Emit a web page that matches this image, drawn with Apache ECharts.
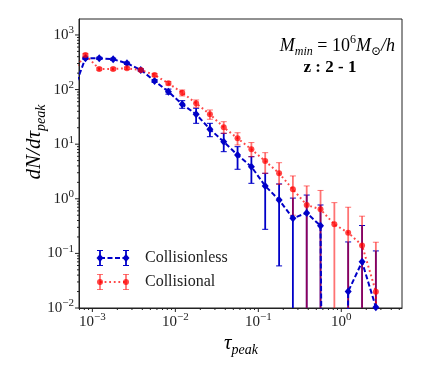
<!DOCTYPE html>
<html>
<head>
<meta charset="utf-8">
<script src="https://cdn.jsdelivr.net/npm/echarts@6/dist/echarts.min.js"></script>
<style>
  html, body { margin: 0; padding: 0; background: #fff; }
  #chart { width: 421px; height: 369px; }
</style>
</head>
<body>
<div id="chart"></div>
<script>
  // bin centres of tau_peak (log spaced, 6 per decade)
  const tau = [0.00056, 0.000825, 0.00121, 0.00178, 0.00261, 0.00383, 0.00562, 0.00825,
    0.0121, 0.0178, 0.0261, 0.0383, 0.0562, 0.0825, 0.121, 0.178, 0.261, 0.383,
    0.562, 0.825, 1.21, 1.78, 2.61, 3.83]

  // Collisionless: dN/dtau and error bar ends (0 = empty bin / open lower bound)
  const collisionless = [77, 374, 374, 359, 303, 229, 144, 91.5, 53.8, 35.3, 18.8, 11.1,
    6.34, 3.87, 1.72, 0.95, 0.44, 0.55, 0.32, 0, 0.020, 0.070, 0.0103, 0]
  const collisionlessLo = [70, 355, 356, 342, 288, 217, 135, 82.4, 45.4, 24.1, 13.7, 7.29,
    3.47, 1.92, 0.276, 0.059, 0, 0, 0, null, 0, 0, 0, null]
  const collisionlessHi = [84, 393, 392, 376, 318, 241, 153, 102, 62.6, 45.4, 24.1, 15.8,
    9.0, 5.9, 2.93, 1.87, 1.03, 1.17, 0.77, null, 0.162, 0.324, 0.111, null]

  // Collisional
  const collisional = [200, 430, 238, 238, 245, 229, 185, 130, 87.7, 56.1, 35.3, 20.4,
    12.8, 8.07, 4.92, 2.93, 1.49, 0.77, 0.64, 0.34, 0.24, 0.14, 0.0199, 0]
  const collisionalLo = [185, 405, 226, 226, 233, 218, 175, 121, 76.4, 47.4, 28.6, 15.8,
    9.67, 5.9, 2.93, 1.84, 0.5, 0, 0, 0, 0, 0, 0, null]
  const collisionalHi = [215, 455, 250, 250, 258, 240, 196, 140, 98.3, 64.5, 42.3, 25.8,
    16.2, 10.7, 6.99, 4.58, 2.62, 1.72, 1.42, 0.85, 0.70, 0.48, 0.16, null]

  const xTicks = [0.001, 0.01, 0.1, 1]
  const yTicks = [0.01, 0.1, 1, 10, 100, 1000]

  const X_MIN = 6.9e-4
  const X_MAX = 5.39
  const Y_MIN = 0.01
  const Y_MAX = 1960
  const FLOOR = 1e-30 // empty bins get clipped below the axis, like matplotlib

  const BLUE = '#0000c8'
  const RED = 'rgba(255,0,0,0.72)'
  const RED_BAR = 'rgba(255,0,0,0.55)'
  const SERIF = '"Liberation Serif", "DejaVu Serif", serif'

  // minor ticks at 2..9 x 10^k inside the axis ranges
  function minorTicks(lo, hi) {
    const out = []
    for (let k = -4; k <= 4; k++) {
      for (let m = 2; m <= 9; m++) {
        const v = m * Math.pow(10, k)
        if (v > lo && v < hi) out.push(v)
      }
    }
    return out
  }

  function pointData(values) {
    return tau.map((t, i) => [t, values[i] > 0 ? values[i] : FLOOR])
  }

  function barData(lo, hi) {
    const out = []
    tau.forEach((t, i) => {
      if (hi[i] == null) return
      out.push([t, lo[i] > 0 ? lo[i] : FLOOR, hi[i]])
    })
    return out
  }

  function errorBars(color) {
    return function (params, api) {
      const a = api.coord([api.value(0), api.value(1)])
      const b = api.coord([api.value(0), api.value(2)])
      const cap = 3
      return {
        type: 'group',
        children: [
          { type: 'line', shape: { x1: a[0], y1: a[1], x2: b[0], y2: b[1] }, style: { stroke: color, lineWidth: 1.8 } },
          { type: 'line', shape: { x1: a[0] - cap, y1: a[1], x2: a[0] + cap, y2: a[1] }, style: { stroke: color, lineWidth: 1 } },
          { type: 'line', shape: { x1: b[0] - cap, y1: b[1], x2: b[0] + cap, y2: b[1] }, style: { stroke: color, lineWidth: 1 } }
        ]
      }
    }
  }

  // tick marks drawn outward, major 4px, minor 2px
  function tickSeries(axis) {
    const data = []
    if (axis === 'x') {
      xTicks.forEach(v => data.push([v, Y_MIN, 4]))
      minorTicks(X_MIN, X_MAX).forEach(v => data.push([v, Y_MIN, 2]))
    } else {
      yTicks.forEach(v => data.push([X_MIN, v, 4]))
      minorTicks(Y_MIN, Y_MAX).forEach(v => data.push([X_MIN, v, 2]))
    }
    return {
      type: 'custom',
      silent: true,
      clip: false,
      z: 5,
      encode: { x: 0, y: 1 },
      data: data,
      renderItem(params, api) {
        const p = api.coord([api.value(0), api.value(1)])
        const len = api.value(2)
        const shape = axis === 'x'
          ? { x1: p[0], y1: p[1], x2: p[0], y2: p[1] + len }
          : { x1: p[0], y1: p[1], x2: p[0] - len, y2: p[1] }
        return { type: 'line', shape: shape, style: { stroke: '#222', lineWidth: 1 } }
      }
    }
  }

  function powLabel(v) {
    const e = Math.log10(v)
    const r = Math.round(e)
    if (Math.abs(e - r) > 1e-6) return ''
    return '{b|10}{s|' + String(r).replace('-', '\u2212') + '}'
  }

  const labelRich = {
    b: { fontFamily: SERIF, fontSize: 15, lineHeight: 20, color: '#222' },
    s: { fontFamily: SERIF, fontSize: 11, lineHeight: 11, verticalAlign: 'top', color: '#222' }
  }

  // legend rows (drawn like matplotlib errorbar handles)
  const legendRows = [
    { name: 'Collisionless', color: BLUE, bar: BLUE, dash: [5, 2.5], symbol: 'diamond', y: 258 },
    { name: 'Collisional', color: RED, bar: RED_BAR, dash: [1.8, 2.8], symbol: 'circle', y: 282 }
  ]

  const legendGraphics = []
  legendRows.forEach(row => {
    legendGraphics.push({
      type: 'line', shape: { x1: 100, y1: row.y, x2: 126, y2: row.y },
      style: { stroke: row.color, lineWidth: 2, lineDash: row.dash }
    })
    ;[100, 126].forEach(x => {
      legendGraphics.push({ type: 'line', shape: { x1: x, y1: row.y - 7.5, x2: x, y2: row.y + 7.5 }, style: { stroke: row.bar, lineWidth: 1.8 } })
      legendGraphics.push({ type: 'line', shape: { x1: x - 3, y1: row.y - 7.5, x2: x + 3, y2: row.y - 7.5 }, style: { stroke: row.bar, lineWidth: 1 } })
      legendGraphics.push({ type: 'line', shape: { x1: x - 3, y1: row.y + 7.5, x2: x + 3, y2: row.y + 7.5 }, style: { stroke: row.bar, lineWidth: 1 } })
      if (row.symbol === 'circle') {
        legendGraphics.push({ type: 'circle', shape: { cx: x, cy: row.y, r: 3 }, style: { fill: row.color } })
      } else {
        legendGraphics.push({ type: 'polygon', shape: { points: [[x, row.y - 4], [x + 3.5, row.y], [x, row.y + 4], [x - 3.5, row.y]] }, style: { fill: row.color } })
      }
    })
    legendGraphics.push({
      type: 'text', x: 145, y: row.y,
      style: { text: row.name, fill: '#222', font: '16px ' + SERIF, align: 'left', verticalAlign: 'middle', textAlign: 'left', textVerticalAlign: 'middle' }
    })
  })

  const mathRich = {
    i: { fontFamily: SERIF, fontStyle: 'italic', fontSize: 18, lineHeight: 24, color: '#222' },
    r: { fontFamily: SERIF, fontSize: 18, lineHeight: 24, color: '#222' },
    s: { fontFamily: SERIF, fontStyle: 'italic', fontSize: 12, lineHeight: 12, verticalAlign: 'bottom', color: '#222' },
    p: { fontFamily: SERIF, fontSize: 12, lineHeight: 12, verticalAlign: 'top', color: '#222' },
    bold: { fontFamily: SERIF, fontWeight: 'bold', fontSize: 17, lineHeight: 22, color: '#222' },
    big: { fontFamily: SERIF, fontStyle: 'italic', fontSize: 21, lineHeight: 28, color: '#222' },
    bigsub: { fontFamily: SERIF, fontStyle: 'italic', fontSize: 14, lineHeight: 14, verticalAlign: 'bottom', color: '#222' }
  }

  const chart = echarts.init(document.getElementById('chart'), null, { renderer: 'canvas' })
  chart.setOption({
    animation: false,
    backgroundColor: '#fff',
    grid: { left: 79, right: 19, top: 19, bottom: 61, show: true, borderColor: '#222', borderWidth: 1, outerBoundsMode: 'none' },
    xAxis: {
      type: 'log',
      logBase: 10,
      min: X_MIN,
      max: X_MAX,
      axisLine: { show: true, lineStyle: { color: '#222' } },
      axisTick: { show: false },
      splitLine: { show: false },
      axisLabel: { formatter: powLabel, rich: labelRich, margin: 4, showMinLabel: false, showMaxLabel: false }
    },
    yAxis: {
      type: 'log',
      logBase: 10,
      min: Y_MIN,
      max: Y_MAX,
      axisLine: { show: true, lineStyle: { color: '#222' } },
      axisTick: { show: false },
      splitLine: { show: false },
      axisLabel: { formatter: powLabel, rich: labelRich, margin: 5, showMaxLabel: false }
    },
    graphic: [
      ...legendGraphics,
      {
        type: 'text', x: 395, y: 46,
        style: { text: '{i|M}{s|min}{r| = 10}{p|6}{i|M}{s|\u2299}{i|/h}', rich: mathRich, align: 'right', verticalAlign: 'middle', textAlign: 'right', textVerticalAlign: 'middle' }
      },
      {
        type: 'text', x: 330, y: 68,
        style: { text: '{bold|z : 2 - 1}', rich: mathRich, align: 'center', verticalAlign: 'middle', textAlign: 'center', textVerticalAlign: 'middle' }
      },
      {
        type: 'text', x: 241, y: 343,
        style: { text: '{big|\u03c4}{bigsub|peak}', rich: mathRich, align: 'center', verticalAlign: 'middle', textAlign: 'center', textVerticalAlign: 'middle' }
      },
      {
        type: 'text', x: 34, y: 142, rotation: Math.PI / 2,
        style: { text: '{big|dN/d\u03c4}{bigsub|peak}', rich: mathRich, align: 'center', verticalAlign: 'middle', textAlign: 'center', textVerticalAlign: 'middle' }
      }
    ],
    series: [
      {
        name: 'Collisionless errors',
        type: 'custom',
        clip: true,
        silent: true,
        encode: { x: 0, y: [1, 2] },
        data: barData(collisionlessLo, collisionlessHi),
        renderItem: errorBars(BLUE)
      },
      {
        name: 'Collisionless',
        type: 'line',
        clip: true,
        data: pointData(collisionless),
        symbol: 'diamond',
        symbolSize: [7, 8],
        itemStyle: { color: BLUE },
        lineStyle: { color: BLUE, width: 2, type: [5, 2.5] }
      },
      {
        name: 'Collisional errors',
        type: 'custom',
        clip: true,
        silent: true,
        encode: { x: 0, y: [1, 2] },
        data: barData(collisionalLo, collisionalHi),
        renderItem: errorBars(RED_BAR)
      },
      {
        name: 'Collisional',
        type: 'line',
        clip: true,
        data: pointData(collisional),
        symbol: 'circle',
        symbolSize: 6,
        itemStyle: { color: RED },
        lineStyle: { color: RED, width: 2, type: [1.8, 2.8] }
      },
      tickSeries('x'),
      tickSeries('y')
    ]
  })
</script>
</body>
</html>
